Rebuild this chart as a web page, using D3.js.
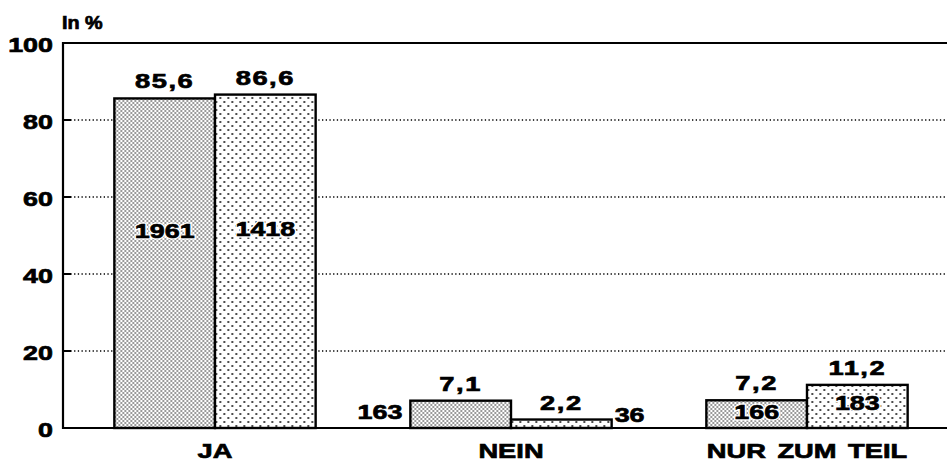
<!DOCTYPE html>
<html>
<head>
<meta charset="utf-8">
<script src="https://cdn.jsdelivr.net/npm/d3@7"></script>
<style>
body { margin:0; background:#fff; }
text { font-family:"Liberation Sans", Arial, sans-serif; font-weight:bold; fill:#000; }
text.heavy { stroke:#000; stroke-width:0.7px; }
</style>
</head>
<body>
<div id="chart"></div>
<script>
// data
var categories = ["JA", "NEIN", "NUR ZUM TEIL"];
var seriesKeys = ["a", "b"];
var percentA = [85.6, 7.1, 7.2];
var percentB = [86.6, 2.2, 11.2];
var countA = [1961, 163, 166];
var countB = [1418, 36, 183];
var yTicks = [0, 20, 40, 60, 80, 100];
var yTitle = "In %";

var W = 947, H = 467;
var margin = { top:43, left:63, right:0, bottom:39 };
var fmt = function(v){ return d3.format(".1f")(v).replace(".", ","); };

var svg = d3.select("#chart").append("svg")
    .attr("width", W).attr("height", H);

// dot patterns
var defs = svg.append("defs");
var p1 = defs.append("pattern").attr("id", "dotsA").attr("patternUnits", "userSpaceOnUse")
    .attr("width", 4).attr("height", 4);
p1.append("rect").attr("width", 4).attr("height", 4).attr("fill", "#fff");
p1.append("circle").attr("cx", 1).attr("cy", 1).attr("r", 0.75).attr("fill", "#000");
p1.append("circle").attr("cx", 3).attr("cy", 3).attr("r", 0.75).attr("fill", "#000");
var p2 = defs.append("pattern").attr("id", "dotsB").attr("patternUnits", "userSpaceOnUse")
    .attr("width", 8).attr("height", 8);
p2.append("rect").attr("width", 8).attr("height", 8).attr("fill", "#fff");
p2.append("circle").attr("cx", 2).attr("cy", 2).attr("r", 0.95).attr("fill", "#000");
p2.append("circle").attr("cx", 6).attr("cy", 6).attr("r", 0.95).attr("fill", "#000");
var fills = { a:"url(#dotsA)", b:"url(#dotsB)" };

var y = d3.scaleLinear().domain([0, 100]).range([H - margin.bottom, margin.top]);
var x0 = d3.scaleBand().domain(categories).range([67, 955])
    .paddingInner(0.32).paddingOuter(0.16);
var x1 = d3.scaleBand().domain(seriesKeys).range([0, x0.bandwidth()]);

// wide, blocky lettering of the original
function wide(sel, sx) {
  sel.each(function(){
    var t = d3.select(this);
    var tx = +t.attr("x") || 0, ty = +t.attr("y") || 0;
    t.attr("x", 0).attr("y", 0)
     .attr("transform", "translate(" + tx + "," + ty + ") scale(" + sx + ",1)");
  });
}

// dotted grid lines
var inner = yTicks.filter(function(d){ return d > 0 && d < 100; });
svg.append("g").selectAll("line")
    .data(inner)
    .enter().append("line")
    .attr("x1", margin.left).attr("x2", W)
    .attr("y1", function(d){ return y(d); }).attr("y2", function(d){ return y(d); })
    .attr("stroke", "#000").attr("stroke-width", 1.3).attr("stroke-dasharray", "1.3,2.4");
svg.append("g").selectAll("line")
    .data(inner)
    .enter().append("line")
    .attr("x1", margin.left).attr("x2", margin.left + 8)
    .attr("y1", function(d){ return y(d); }).attr("y2", function(d){ return y(d); })
    .attr("stroke", "#000").attr("stroke-width", 2);

// frame top
svg.append("line").attr("x1", margin.left).attr("x2", W)
    .attr("y1", y(100)).attr("y2", y(100)).attr("stroke", "#000").attr("stroke-width", 2.2);

// bars
var rows = categories.map(function(c, i){
  return { cat:c, vals:[
    { key:"a", v:percentA[i], n:countA[i] },
    { key:"b", v:percentB[i], n:countB[i] } ] };
});

var groups = svg.selectAll(".grp").data(rows).enter().append("g")
    .attr("class", "grp")
    .attr("transform", function(d){ return "translate(" + x0(d.cat) + ",0)"; });

groups.selectAll("rect").data(function(d){ return d.vals; }).enter().append("rect")
    .attr("x", function(d){ return x1(d.key); })
    .attr("y", function(d){ return y(d.v); })
    .attr("width", x1.bandwidth())
    .attr("height", function(d){ return y(0) - y(d.v); })
    .attr("fill", function(d){ return fills[d.key]; })
    .attr("stroke", "#000").attr("stroke-width", 2.4);

svg.append("line").attr("x1", margin.left).attr("x2", W)
    .attr("y1", y(0)).attr("y2", y(0)).attr("stroke", "#000").attr("stroke-width", 2.2);
svg.append("line").attr("x1", margin.left).attr("x2", margin.left)
    .attr("y1", y(100) - 1).attr("y2", y(0) + 1).attr("stroke", "#000").attr("stroke-width", 2.2);

// percent labels above bars
groups.selectAll("text.pct").data(function(d){ return d.vals; }).enter().append("text")
    .attr("class", "pct heavy")
    .attr("x", function(d){ return x1(d.key) + x1.bandwidth() / 2; })
    .attr("y", function(d){ return y(d.v) - 10; })
    .attr("text-anchor", "middle").attr("font-size", 21).attr("letter-spacing", 1.2)
    .text(function(d){ return fmt(d.v); })
    .call(wide, 1.3);

// case counts: inside the bars, beside them for NEIN
groups.each(function(g){
  var outside = g.cat === "NEIN";
  var px = function(d, i){
    if (!outside) return x1(d.key) + x1.bandwidth() / 2;
    return i === 0 ? x1(d.key) - 8 : x1(d.key) + x1.bandwidth() + 3;
  };
  var py = function(d){ return y(Math.max(d.v, outside ? 6 : 0) * 0.6); };
  var anchor = function(d, i){ return !outside ? "middle" : (i === 0 ? "end" : "start"); };
  var g0 = d3.select(this);
  // white halo underneath, then the figure itself
  ["halo", "heavy"].forEach(function(cls){
    g0.selectAll("text.cnt." + cls).data(g.vals).enter().append("text")
      .attr("class", "cnt " + cls)
      .attr("x", px).attr("y", py).attr("dy", "0.36em")
      .attr("text-anchor", anchor)
      .attr("font-size", 21)
      .style("stroke", cls === "halo" ? "#fff" : null)
      .style("stroke-width", cls === "halo" ? "3px" : null)
      .text(function(d){ return d.n; })
      .call(wide, 1.28);
  });
});

// y axis labels
var ya = svg.append("g").attr("transform", "translate(" + margin.left + ",0)")
    .call(d3.axisLeft(y).tickValues(yTicks).tickSize(0).tickPadding(10));
ya.select(".domain").remove();
ya.selectAll("text").attr("class", "heavy").attr("font-size", 21).attr("font-family", null)
    .attr("dy", "0.42em").attr("fill", "#000")
    .call(wide, 1.28);

// category labels
var xa = svg.append("g").attr("transform", "translate(0," + y(0) + ")")
    .call(d3.axisBottom(x0).tickSize(0).tickPadding(0));
xa.select(".domain").remove();
xa.selectAll("text").attr("class", "heavy").attr("font-size", 21).attr("font-family", null)
    .attr("dy", null).attr("y", 30).attr("fill", "#000").attr("word-spacing", 3)
    .call(wide, 1.3);

svg.append("text").attr("class", "heavy").attr("x", 62).attr("y", 29).attr("font-size", 18)
    .text(yTitle).call(wide, 1.1);
</script>
</body>
</html>
